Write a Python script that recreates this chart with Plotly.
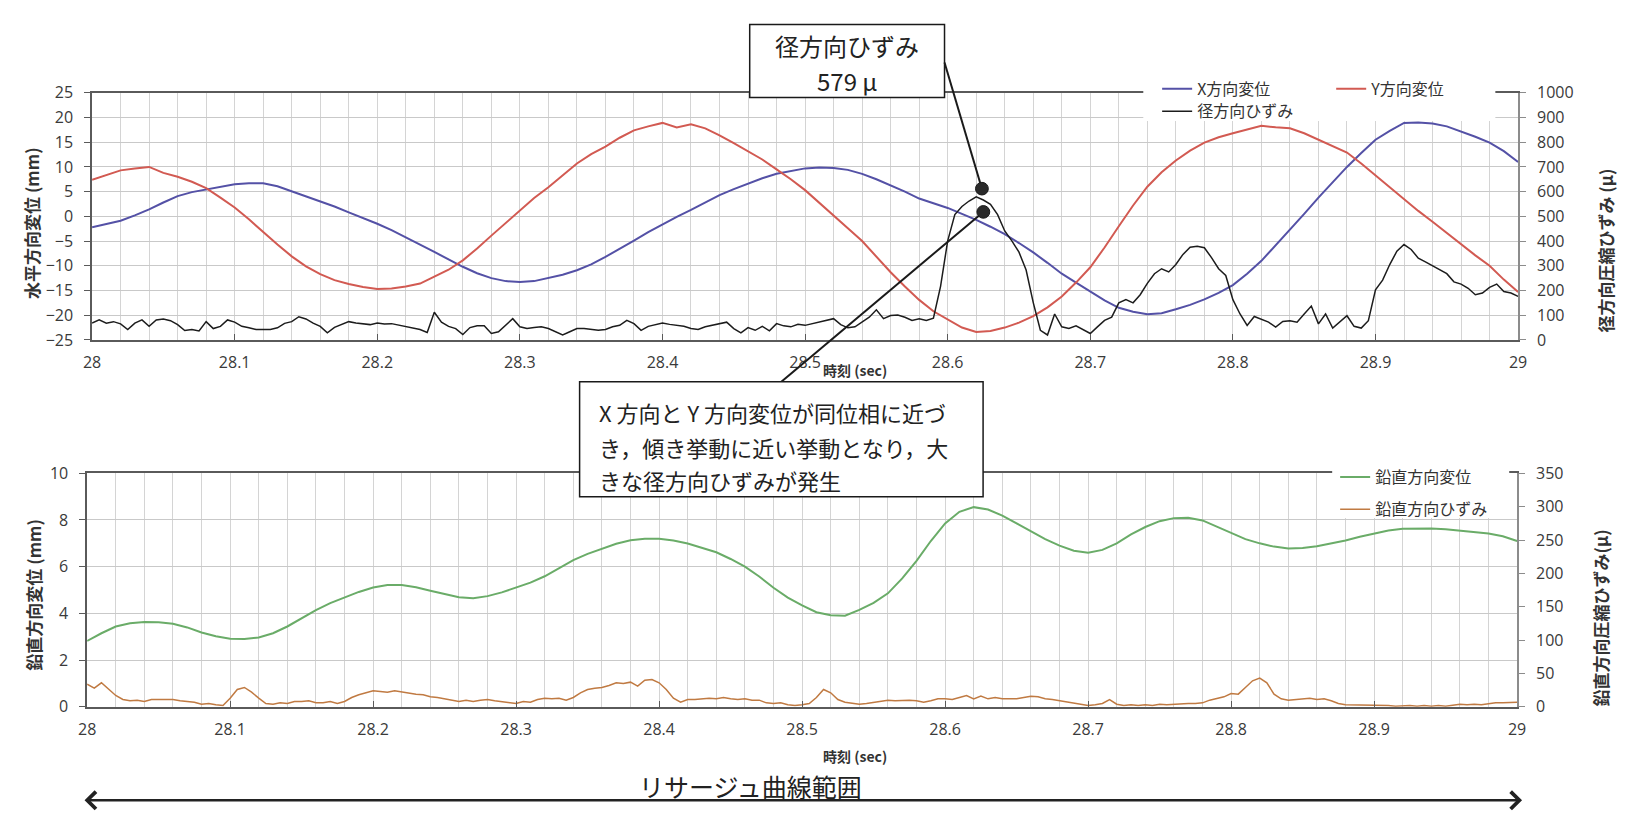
import numpy as np
import plotly.graph_objects as go

W, H = 1625, 821

# ---------------------------------------------------------------------------
# Data
# ---------------------------------------------------------------------------
# sampling grids (sec)
t_fine = np.round(np.linspace(28.0, 29.0, 201), 3)     # 0.005 s
t_coarse = np.round(np.linspace(28.0, 29.0, 101), 2)   # 0.01 s

# horizontal displacement, X direction (mm), every 0.01 s
x_disp = [
    -2.2, -1.6, -0.9, 0.2, 1.4, 2.8, 4.1, 4.9, 5.4, 6.0,
    6.5, 6.7, 6.7, 6.1, 5.1, 4.1, 3.1, 2.0, 0.8, -0.3,
    -1.5, -2.8, -4.2, -5.7, -7.2, -8.7, -10.2, -11.5, -12.5, -13.1,
    -13.3, -13.1, -12.5, -11.8, -10.9, -9.7, -8.2, -6.6, -4.9, -3.2,
    -1.6, -0.1, 1.3, 2.8, 4.3, 5.5, 6.6, 7.7, 8.6, 9.2,
    9.7, 9.9, 9.8, 9.4, 8.6, 7.5, 6.3, 5.0, 3.6, 2.6,
    1.7, 0.5, -0.7, -2.1, -3.6, -5.4, -7.3, -9.4, -11.6, -13.4,
    -15.2, -17.0, -18.5, -19.3, -19.8, -19.6, -18.8, -17.9, -16.8, -15.5,
    -13.9, -11.6, -9.0, -5.9, -2.8, 0.5, 3.8, 7.0, 10.0, 12.8,
    15.5, 17.3, 18.9, 19.0, 18.8, 18.2, 17.2, 16.1, 14.9, 13.2,
    11.0,
]

# horizontal displacement, Y direction (mm), every 0.01 s
y_disp = [
    7.4, 8.4, 9.3, 9.7, 10.0, 8.8, 8.0, 7.0, 5.7, 3.8,
    1.8, -0.6, -3.2, -5.7, -8.1, -10.1, -11.7, -12.9, -13.7, -14.3,
    -14.7, -14.6, -14.2, -13.6, -12.2, -10.8, -8.9, -6.5, -3.9, -1.3,
    1.3, 3.7, 5.9, 8.4, 10.7, 12.6, 14.1, 15.9, 17.4, 18.2,
    18.9, 18.0, 18.6, 17.8, 16.4, 14.8, 13.2, 11.5, 9.5, 7.5,
    5.3, 2.8, 0.3, -2.4, -5.0, -8.2, -11.3, -14.2, -16.9, -19.2,
    -20.9, -22.5, -23.4, -23.2, -22.5, -21.5, -20.2, -18.4, -16.2, -13.4,
    -10.3, -6.3, -2.0, 2.2, 6.0, 8.9, 11.3, 13.3, 14.9, 16.0,
    16.8, 17.6, 18.3, 18.0, 17.8, 16.8, 15.5, 14.3, 12.9, 10.7,
    8.3, 5.9, 3.4, 1.1, -1.1, -3.4, -5.7, -7.9, -10.0, -12.8,
    -15.3,
]

# radial compressive strain (micro), every 0.005 s
radial_strain = [
    68, 81, 68, 74, 65, 42, 68, 81, 55, 81,
    85, 78, 62, 38, 42, 36, 74, 46, 55, 81,
    72, 55, 49, 42, 42, 42, 49, 67, 74, 94,
    85, 68, 55, 29, 51, 64, 74, 69, 64, 62,
    68, 65, 66, 60, 55, 50, 42, 30, 112, 72,
    55, 46, 22, 50, 57, 57, 26, 33, 59, 86,
    53, 46, 50, 53, 46, 33, 20, 33, 46, 46,
    43, 39, 42, 53, 59, 79, 66, 39, 55, 63,
    68, 63, 59, 55, 46, 42, 53, 59, 68, 72,
    46, 29, 50, 39, 55, 37, 66, 57, 53, 63,
    59, 66, 72, 79, 86, 62, 49, 53, 72, 92,
    122, 86, 99, 101, 92, 79, 86, 79, 88, 217,
    401, 507, 540, 562, 579, 566, 549, 507, 441, 401,
    355, 283, 151, 39, 20, 105, 53, 46, 57, 43,
    26, 53, 79, 92, 150, 163, 150, 183, 229, 268,
    288, 275, 305, 346, 375, 379, 373, 333, 288, 261,
    163, 105, 59, 95, 85, 72, 52, 75, 78, 72,
    105, 137, 65, 105, 48, 72, 98, 55, 48, 78,
    203, 242, 305, 359, 386, 366, 331, 316, 301, 284,
    268, 235, 226, 209, 183, 190, 213, 226, 196, 190,
    176,
]

# vertical displacement (mm), every 0.01 s
vert_disp = [
    2.82, 3.15, 3.44, 3.58, 3.63, 3.62, 3.56, 3.40, 3.18, 3.02,
    2.92, 2.90, 2.97, 3.15, 3.44, 3.80, 4.14, 4.44, 4.69, 4.92,
    5.11, 5.22, 5.22, 5.12, 4.97, 4.82, 4.69, 4.65, 4.74, 4.90,
    5.10, 5.32, 5.59, 5.95, 6.28, 6.55, 6.76, 6.98, 7.13, 7.20,
    7.20, 7.12, 6.99, 6.82, 6.62, 6.33, 6.00, 5.58, 5.10, 4.68,
    4.34, 4.05, 3.92, 3.90, 4.15, 4.45, 4.86, 5.50, 6.25, 7.10,
    7.85, 8.35, 8.55, 8.45, 8.19, 7.85, 7.50, 7.18, 6.90, 6.68,
    6.60, 6.72, 7.00, 7.38, 7.70, 7.95, 8.08, 8.10, 7.98, 7.72,
    7.43, 7.18, 7.00, 6.86, 6.78, 6.80, 6.88, 7.00, 7.12, 7.28,
    7.42, 7.55, 7.62, 7.64, 7.64, 7.60, 7.55, 7.48, 7.42, 7.30,
    7.10,
]

# vertical compressive strain (micro), every 0.005 s
vert_strain = [
    34, 28, 36, 27, 17, 11, 9, 10, 8, 11,
    11, 10, 11, 9, 8, 7, 4, 5, 3, 2,
    13, 26, 29, 22, 13, 5, 4, 6, 5, 8,
    8, 9, 6, 6, 8, 5, 8, 14, 18, 21,
    24, 23, 22, 24, 22, 21, 19, 18, 15, 14,
    12, 10, 8, 10, 8, 10, 11, 9, 8, 7,
    5, 8, 7, 11, 13, 12, 13, 10, 14, 21,
    26, 28, 29, 32, 36, 35, 37, 31, 40, 41,
    36, 26, 13, 7, 11, 11, 12, 13, 12, 14,
    12, 11, 12, 10, 10, 6, 5, 6, 3, 2,
    3, 5, 14, 26, 21, 11, 7, 6, 4, 5,
    7, 9, 10, 9, 10, 10, 9, 7, 9, 12,
    12, 11, 14, 17, 12, 16, 12, 14, 12, 12,
    12, 14, 16, 15, 12, 11, 9, 7, 5, 4,
    2, 3, 5, 11, 4, 2, 3, 2, 3, 2,
    4, 3, 4, 4, 5, 5, 6, 10, 12, 15,
    20, 19, 29, 39, 43, 36, 19, 12, 10, 11,
    13, 13, 11, 12, 9, 5, 3, 3, 2, 3,
    2, 2, 2, 1, 2, 2, 1, 2, 1, 2,
    1, 3, 4, 3, 4, 3, 5, 6, 6, 7,
    7,
]

# peak radial strain called out in the note
peak_strain = 579
peak_time = 28.62

# ---------------------------------------------------------------------------
# Layout helpers (pixel -> paper)
# ---------------------------------------------------------------------------
TOP = dict(l=84, r=1526, t=84, b=338)
BOT = dict(l=79, r=1525, t=475, b=715)
STRAIN_TOP = (0, 1000)


def px(x):
    return x / W


def py(y):
    return 1 - y / H


def top_data_to_px(t, strain):
    """Position (pixels) of a radial-strain value in the upper chart."""
    x = TOP["l"] + (t - 28.0) * (TOP["r"] - TOP["l"])
    y = TOP["b"] - (strain - STRAIN_TOP[0]) / (STRAIN_TOP[1] - STRAIN_TOP[0]) * (TOP["b"] - TOP["t"])
    return x, y


BLUE = "#5451a6"
RED = "#d25a52"
BLACK = "#1c1c1c"
GREEN = "#6aac68"
BROWN = "#c07a42"
GRID = "#c9c9c9"
GRID_MINOR = "#d4d4d4"
AX_DARK = "#5a5a5a"
AX_LIGHT = "#8c8c8c"

TICK_FONT = dict(family="Open Sans, Noto Sans, sans-serif", size=16, color="#3a3a3a")
JP = "Noto Sans CJK JP"
LEG_FONT = dict(family=JP, size=16, color="#333333")

fig = go.Figure()

fig.add_trace(go.Scatter(x=t_coarse, y=x_disp, name="X方向変位", mode="lines", showlegend=True,
                         line=dict(color=BLUE, width=2), xaxis="x", yaxis="y", legend="legend"))
fig.add_trace(go.Scatter(x=t_coarse, y=y_disp, name="Y方向変位", mode="lines", showlegend=True,
                         line=dict(color=RED, width=2), xaxis="x", yaxis="y", legend="legend2"))
fig.add_trace(go.Scatter(x=t_fine, y=radial_strain, name="径方向ひずみ", mode="lines", showlegend=True,
                         line=dict(color=BLACK, width=1.5), xaxis="x", yaxis="y2", legend="legend3"))
fig.add_trace(go.Scatter(x=t_coarse, y=vert_disp, name="鉛直方向変位", mode="lines", showlegend=True,
                         line=dict(color=GREEN, width=2), xaxis="x2", yaxis="y3", legend="legend4"))
fig.add_trace(go.Scatter(x=t_fine, y=vert_strain, name="鉛直方向ひずみ", mode="lines", showlegend=True,
                         line=dict(color=BROWN, width=1.5), xaxis="x2", yaxis="y4", legend="legend5"))


def time_axis(dom, anchor):
    return dict(
        domain=dom, anchor=anchor, range=[28, 29], tick0=28, dtick=0.1,
        showgrid=True, gridcolor=GRID_MINOR, gridwidth=1,
        minor=dict(tick0=28, dtick=0.02, showgrid=True, gridcolor=GRID_MINOR, gridwidth=1),
        ticks="inside", ticklen=6, tickcolor=AX_DARK,
        showline=True, linecolor=AX_DARK, linewidth=1.5, mirror=True,
        zeroline=False, tickfont=TICK_FONT, ticklabelstandoff=7, fixedrange=True,
    )


def value_axis(dom, anchor, rng, dtick, side="left", overlay=None):
    ax = dict(
        anchor=anchor, range=rng, dtick=dtick, tick0=rng[0], side=side,
        ticks="outside", ticklen=6, tickcolor=AX_DARK if side == "left" else AX_LIGHT,
        showline=True, linecolor=AX_DARK if side == "left" else AX_LIGHT, linewidth=1.5,
        zeroline=False, tickfont=TICK_FONT, ticklabelstandoff=8, fixedrange=True,
    )
    if overlay:
        ax.update(overlaying=overlay, showgrid=False)
    else:
        ax.update(domain=dom, showgrid=True, gridcolor=GRID, gridwidth=1.2)
    return ax


fig.update_layout(
    width=W, height=H,
    margin=dict(l=0, r=0, t=0, b=0),
    paper_bgcolor="white", plot_bgcolor="white",
    showlegend=True,
    xaxis=time_axis([px(TOP["l"]), px(TOP["r"])], "y"),
    yaxis=value_axis([py(TOP["b"]), py(TOP["t"])], "x", [-25, 25], 5),
    yaxis2=value_axis(None, "x", [0, 1000], 100, side="right", overlay="y"),
    xaxis2=time_axis([px(BOT["l"]), px(BOT["r"])], "y3"),
    yaxis3=value_axis([py(BOT["b"]), py(BOT["t"])], "x2", [0, 10], 2),
    yaxis4=value_axis(None, "x2", [0, 350], 50, side="right", overlay="y3"),
)

# legends, one entry each
leg_common = dict(bgcolor="rgba(0,0,0,0)", borderwidth=0, font=LEG_FONT,
                  xanchor="left", yanchor="middle", itemwidth=30, tracegroupgap=0)
fig.update_layout(
    legend=dict(x=px(1161), y=py(80), **leg_common),
    legend2=dict(x=px(1337), y=py(80), **leg_common),
    legend3=dict(x=px(1161), y=py(103), **leg_common),
    legend4=dict(x=px(1341), y=py(479), **leg_common),
    legend5=dict(x=px(1341), y=py(512), **leg_common),
)

shapes = []
annotations = []


def rect(x0, y0, x1, y1, line=None):
    shapes.append(dict(type="rect", xref="paper", yref="paper",
                       x0=px(x0), x1=px(x1), y0=py(y1), y1=py(y0),
                       fillcolor="white",
                       line=line or dict(width=0), layer="above"))


def seg(x0, y0, x1, y1, width=2, color="#1a1a1a"):
    shapes.append(dict(type="line", xref="paper", yref="paper",
                       x0=px(x0), y0=py(y0), x1=px(x1), y1=py(y1),
                       line=dict(color=color, width=width), layer="above"))


def dot(x, y, r=6.5):
    shapes.append(dict(type="circle", xref="paper", yref="paper",
                       x0=px(x - r), x1=px(x + r), y0=py(y + r), y1=py(y - r),
                       fillcolor="#2a2a2a", line=dict(color="#1a1a1a", width=1), layer="above"))


def text(x, y, s, size=17, angle=0, bold=False, xanchor="center", family=JP, color="#333333"):
    annotations.append(dict(xref="paper", yref="paper", x=px(x), y=py(y), text=s,
                            showarrow=False, textangle=angle, xanchor=xanchor, yanchor="middle",
                            font=dict(family=family, size=size, color=color,
                                      weight="bold" if bold else "normal")))


# legend backgrounds (hide the frame line behind them)
rect(1147, 66, 1503, 113)
rect(1338, 466, 1517, 521)

# axis titles
text(22, 218, "水平方向変位 (mm)", angle=-90, bold=True)
text(1614, 246, "径方向圧縮ひずみ (μ)", angle=-90, bold=True)
text(25, 600, "鉛直方向変位 (mm)", angle=-90, bold=True)
text(1609, 624, "鉛直方向圧縮ひずみ(μ)", angle=-90, bold=True)
text(855, 369, "時刻 (sec)", size=14, bold=True)
text(855, 766, "時刻 (sec)", size=14, bold=True)

# callout: peak radial strain
d1x, d1y = top_data_to_px(peak_time + 0.004, peak_strain + 33)
d2x, d2y = top_data_to_px(peak_time + 0.005, peak_strain - 61)
rect(749, 14, 946, 89, line=dict(color="#1a1a1a", width=1.5))
text(847, 35, "径方向ひずみ", size=24, color="#222222")
text(847, 71, f"{peak_strain} μ", size=24, color="#222222")
seg(946, 53, d1x, d1y)
dot(d1x, d1y)

# callout: explanation of the in-phase behaviour
seg(d2x, d2y, 781, 381)
dot(d2x, d2y)
rect(577, 381, 985, 499, line=dict(color="#1a1a1a", width=1.5))
text(595, 412, "X 方向と Y 方向変位が同位相に近づ", size=22, xanchor="left", color="#222222")
text(595, 448, "き，傾き挙動に近い挙動となり，大", size=22, xanchor="left", color="#222222")
text(595, 482, "きな径方向ひずみが発生", size=22, xanchor="left", color="#222222")

# range of the Lissajous plot
text(750, 796, "リサージュ曲線範囲", size=25, color="#222222")
annotations.append(dict(xref="paper", yref="paper", x=px(1530), y=py(811), text="",
                        showarrow=True, ax=-(1530 - 91), ay=0, axref="pixel", ayref="pixel",
                        arrowhead=4, startarrowhead=4, arrowside="end+start",
                        arrowsize=1.4, startarrowsize=1.4, arrowwidth=2.4, arrowcolor="#222222"))

fig.update_layout(shapes=shapes, annotations=annotations)

fig.write_html("out.html")
